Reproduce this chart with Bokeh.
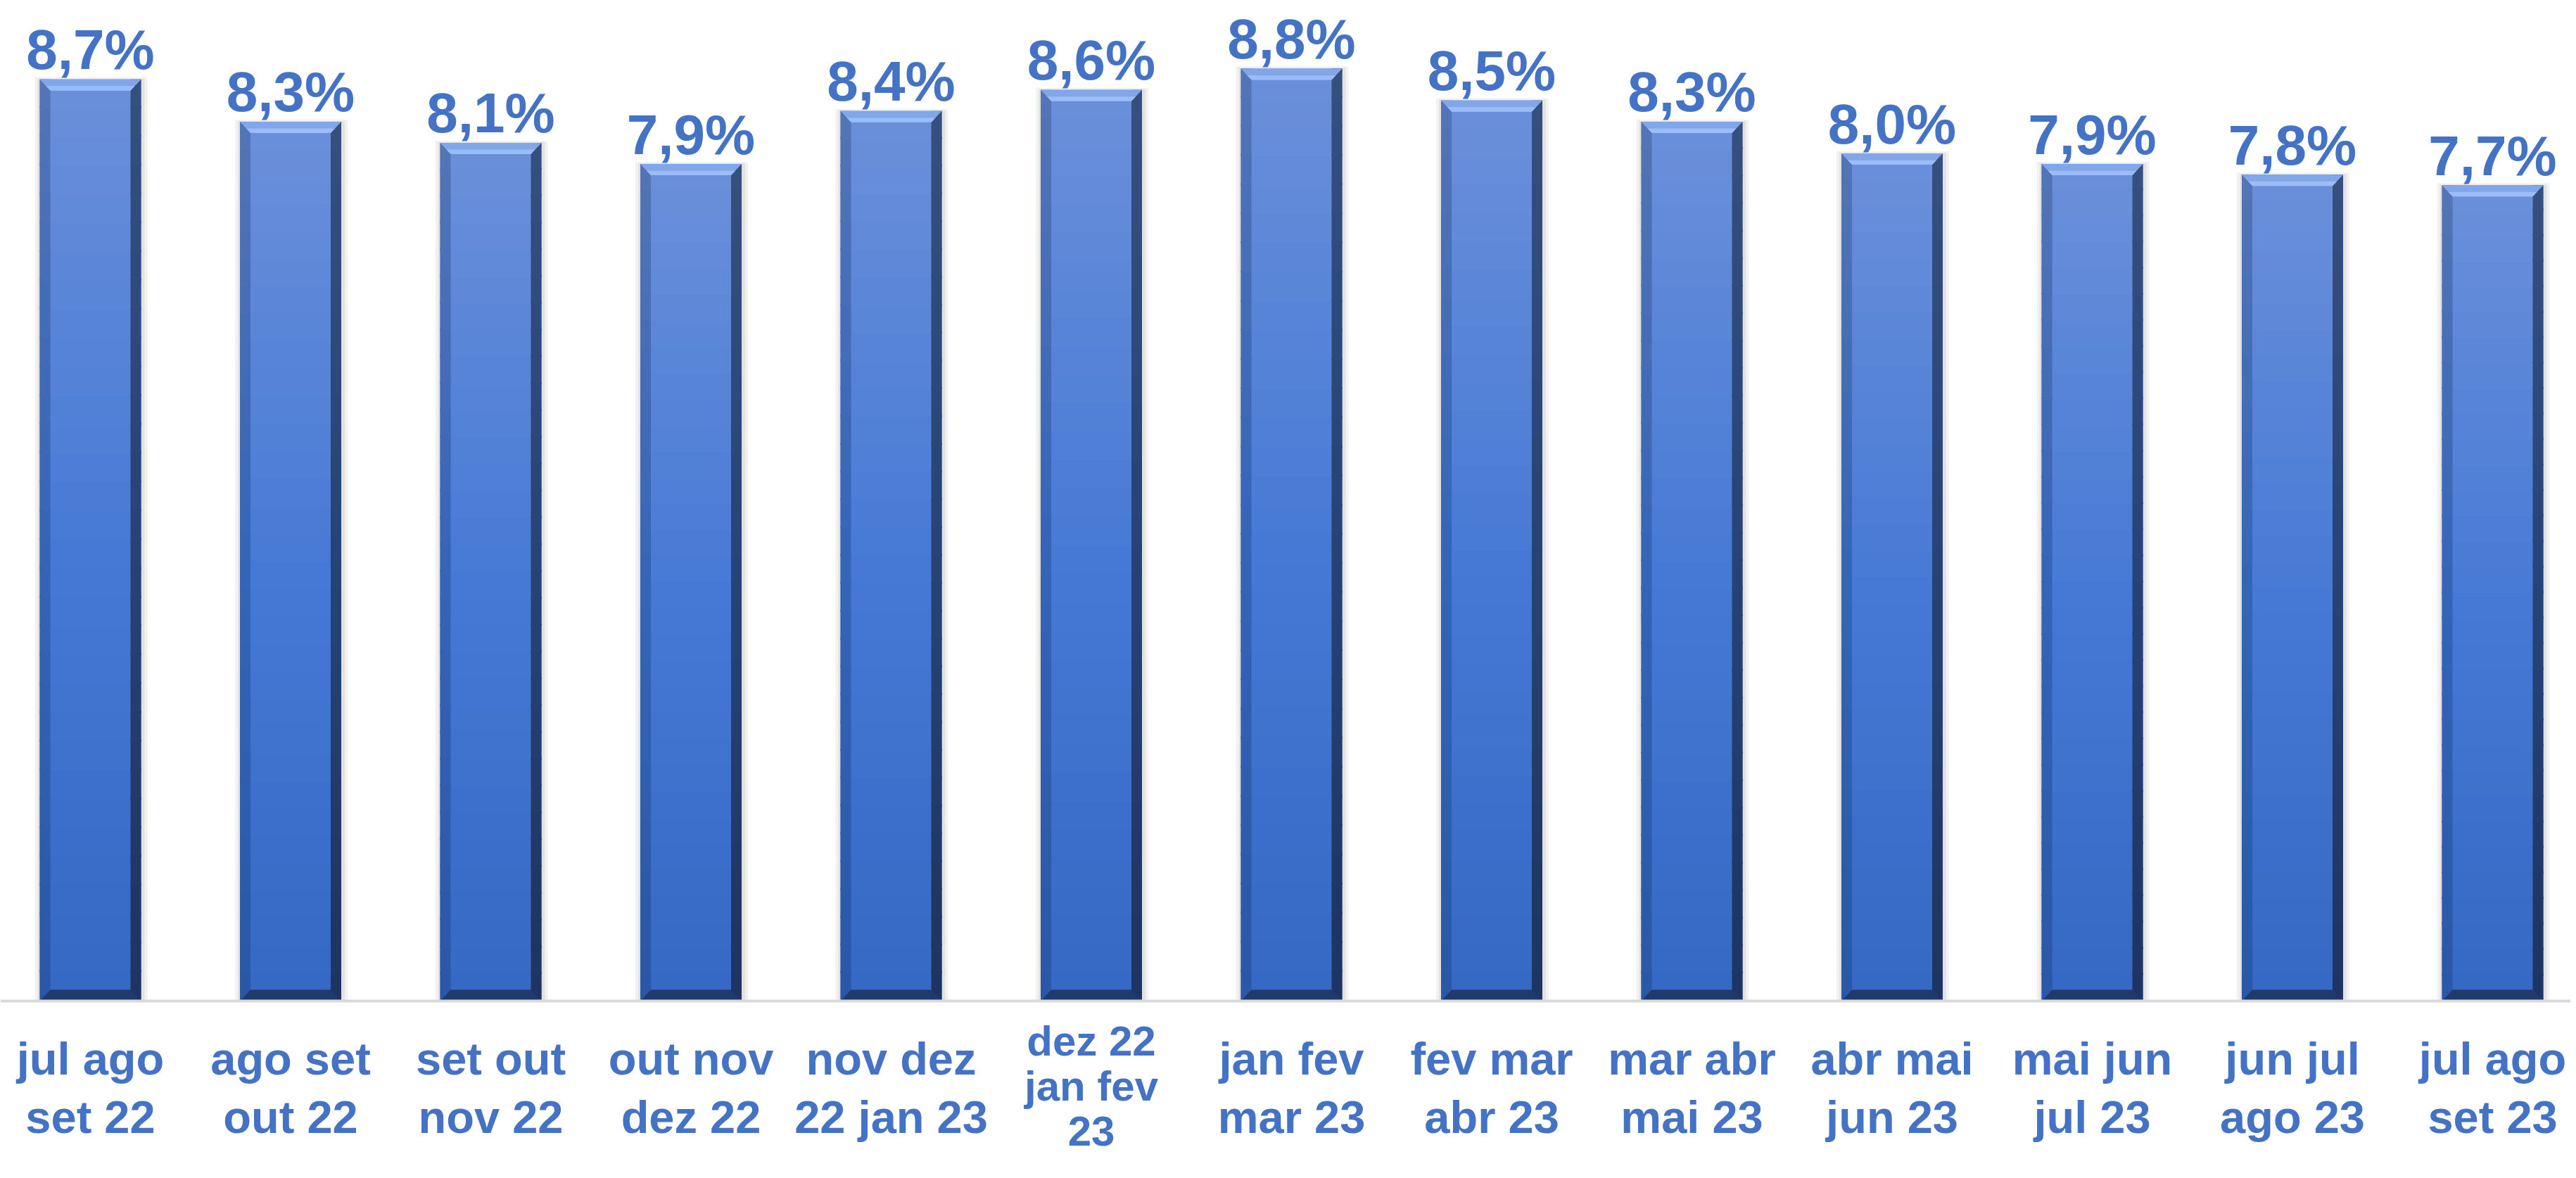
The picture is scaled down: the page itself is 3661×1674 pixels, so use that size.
import numpy as np
from bokeh.plotting import figure
from bokeh.models import Range1d, ColumnDataSource, Span
from bokeh.core.properties import value
from bokeh.embed import file_html
from bokeh.resources import INLINE

# ---------------- data ----------------
categories = [
    "jul ago\nset 22", "ago set\nout 22", "set out\nnov 22", "out nov\ndez 22",
    "nov dez\n22 jan 23", "dez 22\njan fev\n23", "jan fev\nmar 23", "fev mar\nabr 23",
    "mar abr\nmai 23", "abr mai\njun 23", "mai jun\njul 23", "jun jul\nago 23",
    "jul ago\nset 23",
]
rates = [8.7, 8.3, 8.1, 7.9, 8.4, 8.6, 8.8, 8.5, 8.3, 8.0, 7.9, 7.8, 7.7]
rate_labels = [f"{r:.1f}%".replace(".", ",") for r in rates]

# ---------------- layout ----------------
W, H = 3653, 1658
X0, X1 = -0.45, 12.39
Y0, Y1 = -1.5676, 9.445
PXX = W / (X1 - X0)
PXY = H / (Y1 - Y0)
BAR_W = 0.506
BEV_X = 15 / PXX
BEV_Y = 16 / PXY
TEXT_COLOR = "#4472C4"
FONT = value("Liberation Sans")

p = figure(width=W, height=H, output_backend="svg", toolbar_location=None,
           x_range=Range1d(X0, X1), y_range=Range1d(Y0, Y1))
p.min_border = 0
p.outline_line_color = None
p.xaxis.visible = False
p.yaxis.visible = False
p.xgrid.visible = False
p.ygrid.visible = False
p.background_fill_color = "white"
p.border_fill_color = "white"

idx = np.arange(len(rates), dtype=float)
vals = np.array(rates)
L = idx - BAR_W / 2
R = idx + BAR_W / 2


def hex2rgb(h):
    h = h.lstrip("#")
    return np.array([int(h[i:i + 2], 16) for i in (0, 2, 4)], dtype=float)


def grad(stops, t):
    pos = [s[0] for s in stops]
    cols = [hex2rgb(s[1]) for s in stops]
    for i in range(len(pos) - 1):
        if pos[i] <= t <= pos[i + 1]:
            f = (t - pos[i]) / (pos[i + 1] - pos[i])
            c = cols[i] * (1 - f) + cols[i + 1] * f
            return "#%02x%02x%02x" % tuple(int(round(v)) for v in c)
    c = cols[-1]
    return "#%02x%02x%02x" % tuple(int(round(v)) for v in c)


main_stops = [(0.0, "#3568C3"), (0.5, "#477AD6"), (1.0, "#6B90DA")]
left_stops = [(0.0, "#2A57A6"), (0.5, "#3565B8"), (1.0, "#5474B6")]
right_stops = [(0.0, "#1E3461"), (0.5, "#274377"), (1.0, "#35507F")]

# shadows
p.quad(left=L - 7 / PXX, right=R + 9 / PXX, bottom=np.zeros_like(vals), top=vals + 3 / PXY,
       fill_color="#F2F2F2", line_color=None)
p.quad(left=L - 3 / PXX, right=R + 5 / PXX, bottom=np.zeros_like(vals), top=vals + 1 / PXY,
       fill_color="#E2E2E2", line_color=None)

p.add_layout(Span(location=0, dimension="width", line_color="#D9D9D9", line_width=4))

N = 32
OVER = 3 / PXY
segB, segT, bidx, cm, cl, cr = [], [], [], [], [], []
for i, v in enumerate(vals):
    for k in range(N):
        b = v * k / N
        t = min(v * (k + 1) / N + OVER, v)
        tc = (k + 0.5) / N
        segB.append(b)
        segT.append(t)
        bidx.append(i)
        cm.append(grad(main_stops, tc))
        cl.append(grad(left_stops, tc))
        cr.append(grad(right_stops, tc))
segB = np.array(segB)
segT = np.array(segT)
bi = np.array(bidx, dtype=int)

p.quad(left=L[bi], right=R[bi], bottom=segB, top=segT, fill_color=cm, line_color=None)
p.quad(left=L[bi], right=L[bi] + BEV_X, bottom=segB, top=segT, fill_color=cl, line_color=None)
p.quad(left=R[bi] - BEV_X, right=R[bi], bottom=segB, top=segT, fill_color=cr, line_color=None)

# top bevel (light)
top_xs = [[l, r, r - BEV_X, l + BEV_X] for l, r in zip(L, R)]
top_ys = [[v, v, v - BEV_Y, v - BEV_Y] for v in vals]
p.patches(top_xs, top_ys, fill_color="#82A6EA", line_color=None)
hl_xs = [[l + BEV_X * 0.6, r - BEV_X * 0.6, r - BEV_X, l + BEV_X] for l, r in zip(L, R)]
hl_ys = [[v - BEV_Y * 0.6, v - BEV_Y * 0.6, v - BEV_Y, v - BEV_Y] for v in vals]
p.patches(hl_xs, hl_ys, fill_color="#9CBCF6", line_color=None)

# bottom bevel (dark)
bot_xs = [[l, r, r - BEV_X, l + BEV_X] for l, r in zip(L, R)]
bot_ys = [[0, 0, BEV_Y, BEV_Y] for _ in vals]
p.patches(bot_xs, bot_ys, fill_color="#213A6C", line_color=None)

# value labels
src = ColumnDataSource(dict(x=idx, y=vals + 42 / PXY, t=rate_labels))
p.text(x="x", y="y", text="t", source=src, text_font=FONT, text_font_style="bold",
       text_font_size="80px", text_color=TEXT_COLOR, text_align="center",
       text_baseline="alphabetic")

# category labels (labels with three lines are set tighter so they fit)
nlines = [c.count("\n") + 1 for c in categories]
lh = [1.136 if n <= 2 else 0.95 for n in nlines]
yo = [46 if n <= 2 else 24 for n in nlines]
fs = ["65px" if n <= 2 else "60px" for n in nlines]
csrc = ColumnDataSource(dict(x=idx, y=np.zeros_like(vals), t=categories, lh=lh, yo=yo, fs=fs))
p.text(x="x", y="y", text="t", source=csrc, text_font=FONT, text_font_style="bold",
       text_font_size="fs", text_color=TEXT_COLOR, text_align="center",
       text_baseline="top", text_line_height="lh", y_offset="yo")

open("out.html", "w").write(file_html(p, INLINE))
